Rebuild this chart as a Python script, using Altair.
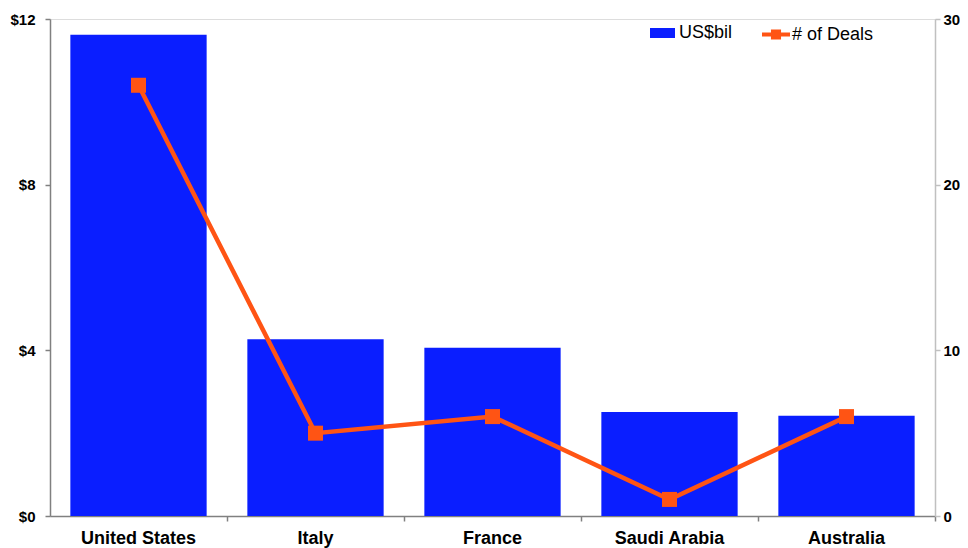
import altair as alt
import pandas as pd

countries = ["United States", "Italy", "France", "Saudi Arabia", "Australia"]
value_bil = [11.62, 4.27, 4.06, 2.51, 2.42]
deals = [26, 5, 6, 1, 6]
series_value = ["US$bil"] * len(countries)
series_deals = ["# of Deals"] * len(countries)

BLUE = "#0a1eff"
ORANGE = "#ff5414"
FONT = "Liberation Sans"

df = pd.DataFrame({
    "country": countries,
    "value": value_bil,
    "deals": deals,
    "s1": series_value,
    "s2": series_deals,
})

x_enc = alt.X(
    "country:N",
    sort=countries,
    scale=alt.Scale(paddingInner=0.23, paddingOuter=0.115),
    axis=alt.Axis(
        title=None, labelAngle=0, labelFont=FONT, labelFontSize=18,
        labelFontWeight="bold", labelColor="#000000", labelPadding=8,
        domainColor="#808080", tickColor="#808080", tickSize=5,
        bandPosition=1.1496, tickExtra=False, domainWidth=1.5, tickWidth=1.5,
    ),
)

bars = alt.Chart(df).mark_bar().encode(
    x=x_enc,
    y=alt.Y(
        "value:Q",
        scale=alt.Scale(domain=[0, 12], nice=False),
        axis=alt.Axis(
            title=None, orient="left", values=[0, 4, 8, 12], format="$.0f",
            labelFont=FONT, labelFontSize=15, labelFontWeight="bold",
            labelColor="#000000", labelPadding=10, grid=False,
            domainColor="#808080", tickColor="#808080", tickSize=5,
            domainWidth=1.5, tickWidth=1.5,
        ),
    ),
    fill=alt.Fill(
        "s1:N",
        scale=alt.Scale(domain=["US$bil"], range=[BLUE]),
        legend=alt.Legend(
            title=None, orient="none", legendX=600, legendY=1.5,
            symbolType="M-1,-0.4H1V0.4H-1Z", symbolSize=625,
            symbolStrokeWidth=0, labelFont=FONT, labelFontSize=18,
            labelColor="#000000", labelOffset=4, padding=0,
        ),
    ),
)

y_right = alt.Y(
    "deals:Q",
    scale=alt.Scale(domain=[0, 30], nice=False),
    axis=alt.Axis(
        title=None, orient="right", values=[0, 10, 20, 30],
        labelFont=FONT, labelFontSize=15, labelFontWeight="bold",
        labelColor="#000000", labelPadding=3, grid=False,
        domainColor="#c0c0c0", tickColor="#c0c0c0", tickSize=5,
        domainWidth=1.5, tickWidth=1.5,
    ),
)

line = alt.Chart(df).mark_line(color=ORANGE, strokeWidth=4.5).encode(
    x=alt.X("country:N", sort=countries),
    y=y_right,
)

squares = alt.Chart(df).mark_square(size=225, opacity=1, strokeWidth=0).encode(
    x=alt.X("country:N", sort=countries),
    y=y_right,
    color=alt.Color(
        "s2:N",
        scale=alt.Scale(domain=["# of Deals"], range=[ORANGE]),
        legend=alt.Legend(
            title=None, orient="none", legendX=712, legendY=1.5,
            symbolType="M-1,-0.15H1V0.15H-1Z M-0.36,-0.36H0.36V0.36H-0.36Z",
            symbolSize=784, symbolStrokeWidth=0, symbolOpacity=1,
            labelFont=FONT, labelFontSize=18, labelColor="#000000",
            labelOffset=2, padding=0,
        ),
    ),
)

chart = alt.layer(bars, alt.layer(line, squares)).resolve_scale(
    y="independent"
).properties(
    width=885,
    height=497,
    autosize="none",
    padding={"left": 42, "top": 11, "right": 25, "bottom": 36},
).configure_view(stroke=None).configure(background="#ffffff")

chart.save("out.html", embed_options={"renderer": "svg", "actions": False})
